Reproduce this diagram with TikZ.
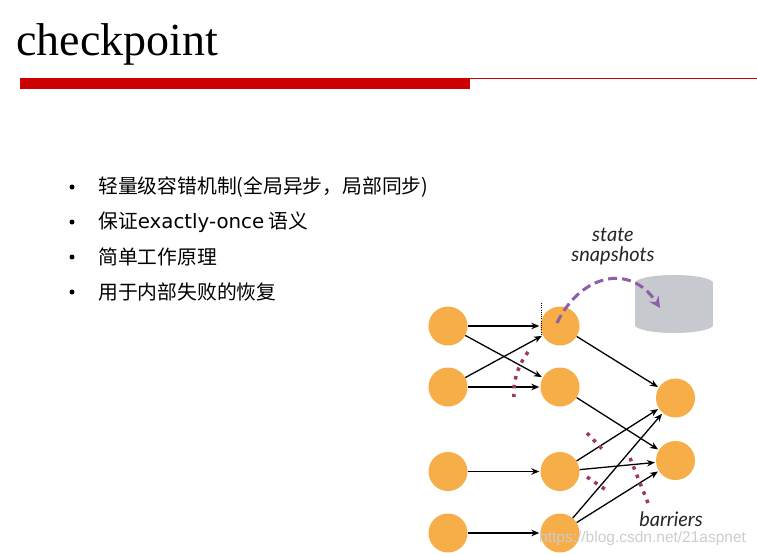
\documentclass[tikz,border=0pt]{standalone}
\usepackage{fontspec}
\setmainfont{Liberation Serif}
\newfontfamily\cjk{Noto Sans CJK SC}
\newfontfamily\dejavu{DejaVu Sans}
\newfontfamily\lato{Lato}
\usetikzlibrary{arrows.meta}
\definecolor{nodeorange}{RGB}{247,173,72}
\definecolor{titlered}{RGB}{204,0,0}
\definecolor{barrierred}{RGB}{158,58,88}
\definecolor{snappurple}{RGB}{140,95,168}
\definecolor{cylgray}{RGB}{198,201,206}
\definecolor{wmgray}{RGB}{205,205,205}
\tikzset{
  opnode/.style={circle,fill=nodeorange,minimum size=39pt,inner sep=0pt},
  flow/.style={-{Stealth[length=8pt,width=6.5pt]},line width=1.3pt,black,shorten >=1pt},
  barrier/.style={barrierred,line width=3.5pt,dash pattern=on 3.5pt off 5.5pt},
  bullettext/.style={anchor=west,inner sep=0pt,font=\cjk\fontsize{19.8}{22}\selectfont},
  bulletdot/.style={circle,fill=black,inner sep=0pt,minimum size=5pt},
  label/.style={inner sep=0pt,font=\lato\itshape\fontsize{20}{22}\selectfont,text=black!85}
}
\begin{document}
\begin{tikzpicture}[x=1pt,y=-1pt]
\useasboundingbox (0,0) rectangle (757,555);
\fill[white] (0,0) rectangle (757,555);
% title
\node[anchor=base west,inner sep=0pt,font=\fontsize{46}{50}\selectfont] (title) at (16,55) {checkpoint};
\fill[titlered] (20,78) rectangle (470,89);
\fill[titlered] (470,77.5) rectangle (757,79);
% bullets
\node[bulletdot] (b1) at (72,187) {};
\node[bulletdot] (b2) at (72,222) {};
\node[bulletdot] (b3) at (72,257) {};
\node[bulletdot] (b4) at (72,292) {};
\node[bullettext] (t1) at (98,187) {轻量级容错机制(全局异步，局部同步)};
\node[bullettext] (t2) at (98,222) {保证{\dejavu exactly-once} 语义};
\node[bullettext] (t3) at (98,257) {简单工作原理};
\node[bullettext] (t4) at (98,292) {用于内部失败的恢复};
% cylinder
\fill[cylgray] (635,283) rectangle (713,325);
\fill[cylgray] (674,283) ellipse [x radius=39pt,y radius=8pt];
\fill[cylgray] (674,325) ellipse [x radius=39pt,y radius=8pt];
\coordinate (cyl) at (660,308);
% labels
\node[label] (state) at (613,235) {state};
\node[label] (snap) at (613,256) {snapshots};
\node[label] (barr) at (671,519) {barriers};
% nodes
\node[opnode] (a1) at (448,326) {};
\node[opnode] (a2) at (448,387) {};
\node[opnode] (a3) at (448,471.5) {};
\node[opnode] (a4) at (448,533) {};
\node[opnode] (b1n) at (560,326) {};
\node[opnode] (b2n) at (560,387) {};
\node[opnode] (b3n) at (560,471.5) {};
\node[opnode] (b4n) at (560,533) {};
\node[opnode] (c1) at (675.5,398) {};
\node[opnode] (c2) at (675.5,460.5) {};
% edges
\draw[flow] (a1) -- (b1n);
\draw[flow] (a1) -- (b2n);
\draw[flow] (a2) -- (b1n);
\draw[flow] (a2) -- (b2n);
\draw[flow] (a3) -- (b3n);
\draw[flow] (a4) -- (b4n);
\draw[flow] (b1n) -- (c1);
\draw[flow] (b2n) -- (c2);
\draw[flow] (b3n) -- (c1);
\draw[flow] (b3n) -- (c2);
\draw[flow] (b4n) -- (c1);
\draw[flow] (b4n) -- (c2);
% dotted tick
\coordinate (tickA) at (541,303);
\coordinate (tickB) at (541,334);
\draw[black,line width=0.8pt,dash pattern=on 1pt off 1.2pt] (tickA) -- (tickB);
% barriers
\coordinate (r1) at (528,352);
\coordinate (r2) at (514,397);
\draw[barrier] (r1) .. controls (517,367) and (513,382) .. (r2);
\coordinate (s1) at (587,433);
\coordinate (s2) at (605,452);
\draw[barrier] (s1) -- (s2);
\coordinate (s3) at (587,477);
\coordinate (s4) at (609,492);
\draw[barrier] (s3) -- (s4);
\coordinate (s5) at (630,458);
\coordinate (s6) at (648,503);
\draw[barrier] (s5) -- (s6);
% snapshot arrow
\coordinate (snapstart) at (557,323);
\draw[snappurple,line width=3pt,dash pattern=on 9pt off 5pt,-{Stealth[length=11pt,width=11pt]}] (snapstart) .. controls (580,275) and (630,262) .. (cyl);
% watermark
\node[inner sep=0pt,anchor=west,font=\fontspec{Liberation Sans}\fontsize{15.5}{17}\selectfont,text=wmgray] (wm) at (539,538) {https://blog.csdn.net/21aspnet};
\end{tikzpicture}
\end{document}
